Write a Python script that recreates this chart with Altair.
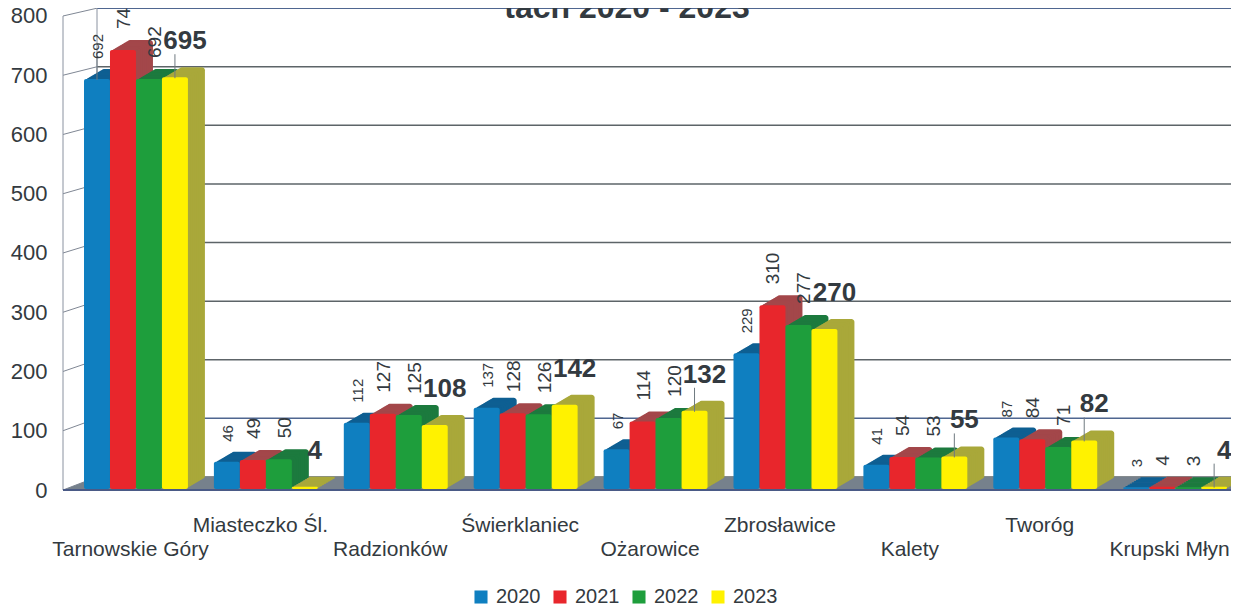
import altair as alt
import pandas as pd

categories = ["Tarnowskie Góry", "Miasteczko Śl.", "Radzionków", "Świerklaniec", "Ożarowice",
              "Zbrosławice", "Kalety", "Tworóg", "Krupski Młyn"]
lower_row = ["Tarnowskie Góry", "Radzionków", "Ożarowice", "Kalety", "Krupski Młyn"]
series = ["2020", "2021", "2022", "2023"]
v2020 = [692, 46, 112, 137, 67, 229, 41, 87, 3]
v2021 = [741, 49, 127, 128, 114, 310, 54, 84, 4]
v2022 = [692, 50, 125, 126, 120, 277, 53, 71, 3]
v2023 = [695, 4, 108, 142, 132, 270, 55, 82, 4]
y_ticks = [0, 100, 200, 300, 400, 500, 600, 700, 800]
title_text = "tach 2020 - 2023"

FRONT = {"2020": "#0f7fc0", "2021": "#e8262c", "2022": "#1e9e3c", "2023": "#fff200"}
SIDE = {"2020": "#0e5f92", "2021": "#a3474a", "2022": "#1c7a3e", "2023": "#a9a83a"}
FONT = "Liberation Sans"
TXT = "#333a40"
W, H = 1168, 482
YMAX = 813.5
PXV = H / YMAX           # pixels per value unit
STEP = 129.9             # pixels per category
X0 = 21                  # pixels from the axis to the first bar
BW = 0.2                 # bar width in category units
DX, DY, STEPS = 17, 10, 8
WALL_X, WALL_Y = 34, 22

rows = []
for si, (s, vals) in enumerate(zip(series, [v2020, v2021, v2022, v2023])):
    for ci, (c, v) in enumerate(zip(categories, vals)):
        rows.append({"cat": c, "series": s, "value": v, "pos": ci + si * BW})
df = pd.DataFrame(rows)

yscale = alt.Scale(domain=[0, YMAX], nice=False, zero=False)
xscale = alt.Scale(domain=[-X0 / STEP, (W - X0) / STEP], nice=False, zero=False)
names_js = "[" + ",".join("'" + c + "'" for c in categories) + "]"
lower_js = "[" + ",".join("'" + c + "'" for c in lower_row) + "]"
name_expr = names_js + "[floor(datum.value)]"
xaxis = alt.Axis(title=None, values=[i + 0.4 for i in range(len(categories))], grid=False, labelAngle=0,
                 domain=False, ticks=False, labelFont=FONT, labelFontSize=21, labelColor=TXT, labelPadding=24,
                 labelOffset=-6, labelOverlap=False, labelFlush=False, labelBound=False, labelBaseline="top",
                 labelLineHeight=24, labelLimit=400,
                 labelExpr="indexof(" + lower_js + "," + name_expr + ")>=0 ? ['', " + name_expr + "] : " + name_expr)
yaxis = alt.Axis(title=None, values=y_ticks, grid=False, domain=False, ticks=False, labelFont=FONT,
                 labelFontSize=22, labelColor=TXT, labelPadding=16)


def X(f):
    return alt.X(f, scale=xscale, axis=xaxis)


def Y(f):
    return alt.Y(f, scale=yscale, axis=yaxis)


layers = []
# walls
ticks = pd.DataFrame({"v": y_ticks})
back = "datum.v*0.989+22"
wall = alt.Chart(ticks).transform_calculate(
    b=back, x0=f"{-X0 / STEP}", x1=f"{(WALL_X - X0) / STEP}", x2=f"{(W - X0) / STEP}")
layers.append(wall.mark_rule(strokeWidth=1.5).encode(
    x=X("x1:Q"), x2="x2:Q", y=Y("b:Q"),
    color=alt.condition("datum.v==100||datum.v==800", alt.value("#4f6690"), alt.value("#5d6468"))))
layers.append(wall.mark_rule(color="#7f8794", strokeWidth=1).encode(x=X("x0:Q"), x2="x1:Q", y=Y("v:Q"), y2="b:Q"))
verts = wall.transform_filter("datum.v==800").transform_calculate(a="0", c="22", d=str(YMAX))
layers.append(verts.mark_rule(color="#8a92a0", strokeWidth=1).encode(x=X("x0:Q"), y=Y("a:Q"), y2="v:Q"))
layers.append(verts.mark_rule(color="#8a92a0", strokeWidth=1).encode(x=X("x1:Q"), y=Y("c:Q"), y2="d:Q"))
# floor
floor = pd.DataFrame({"x": [-X0 / STEP, (WALL_X - X0) / STEP, (W - X0) / STEP],
                      "t": [0, WALL_Y, WALL_Y], "z": [0, 0, 0]})
layers.append(alt.Chart(floor).mark_area(color="#76818c").encode(x=X("x:Q"), y=Y("t:Q"), y2="z:Q"))
layers.append(alt.Chart(floor).mark_rule(color="#4a5a86", strokeWidth=2).encode(
    x=X("min(x):Q"), x2=alt.X2("max(x):Q"), y=Y("min(z):Q")))

# bars
base = alt.Chart(df)
LIFT = 1 / PXV
for s in series:
    sub = base.transform_filter(alt.datum.series == s)
    for k in range(STEPS, 0, -1):
        ox, oy = DX * k / STEPS / STEP, (DY * k / STEPS + 1) / PXV
        layers.append(sub.transform_calculate(
            a=f"datum.pos+{ox}", b=f"datum.pos+{ox + BW}", t=f"datum.value+{oy}", z=f"{oy}"
        ).mark_bar(color=SIDE[s], cornerRadius=3).encode(x=X("a:Q"), x2="b:Q", y=Y("t:Q"), y2="z:Q"))
    layers.append(sub.transform_calculate(
        b=f"datum.pos+{BW}", t=f"datum.value+{LIFT}", z=f"{LIFT}"
    ).mark_bar(cornerRadius=2).encode(
        x=X("pos:Q"), x2="b:Q", y=Y("t:Q"), y2="z:Q",
        color=alt.Color("series:N", scale=alt.Scale(domain=series, range=[FRONT[x] for x in series]),
                        legend=alt.Legend(title=None, orient="none", legendX=408, legendY=579, direction="horizontal",
                                          columns=4, symbolType="square", symbolSize=170, symbolStrokeWidth=0,
                                          labelFont=FONT, labelFontSize=20, labelColor=TXT, labelOffset=5,
                                          columnPadding=9, padding=0))))

# leader lines
leaders = df[((df.series == "2023") & df.cat.isin(["Tarnowskie Góry", "Ożarowice", "Kalety", "Tworóg", "Krupski Młyn"]))
             | ((df.series == "2020") & (df.cat == "Tarnowskie Góry"))]
layers.append(alt.Chart(leaders).transform_calculate(
    c=f"datum.pos+{BW / 2}", t=f"datum.value+{24 / PXV}"
).mark_rule(color="#6f7a80", strokeWidth=1).encode(x=X("c:Q"), y=Y("value:Q"), y2="t:Q"))

# value labels
label_style = {
    "2020": dict(dx=1, fontSize=15, yOffset=-21, angle=270, align="left", baseline="middle"),
    "2021": dict(dx=1, fontSize=19, yOffset=-22, angle=270, align="left", baseline="middle"),
    "2022": dict(dx=6, fontSize=19, yOffset=-22, angle=270, align="left", baseline="middle"),
    "2023": dict(dx=10, fontSize=26, fontWeight="bold", yOffset=-37, align="center", baseline="middle"),
}
for s in series:
    st = dict(label_style[s])
    ox = st.pop("dx") / STEP
    layers.append(base.transform_filter(alt.datum.series == s).transform_calculate(
        c=f"datum.pos+{BW / 2 + ox}"
    ).mark_text(font=FONT, color=TXT, **st).encode(x=X("c:Q"), y=Y("value:Q"), text="value:Q"))

layers.append(alt.Chart(pd.DataFrame({"t": [title_text]})).mark_text(
    font=FONT, fontSize=32, fontWeight="bold", color=TXT, align="center", baseline="alphabetic").encode(
    x=alt.value(564), y=alt.value(10), text="t:N"))

chart = alt.layer(*layers).properties(
    width=W, height=H, background="white",
    padding={"left": 55, "top": 0, "right": 0, "bottom": 115},
    autosize=alt.AutoSizeParams(type="none", contains="content"),
).configure_view(stroke=None)
chart.save("out.html", embed_options={"renderer": "svg", "actions": False})
